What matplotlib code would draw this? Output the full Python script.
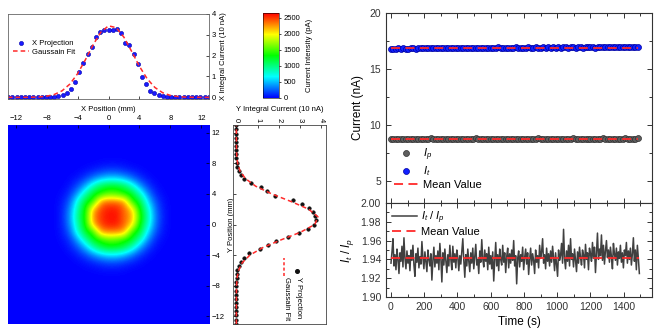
import numpy as np
import matplotlib
matplotlib.use("Agg")
import matplotlib.pyplot as plt
from matplotlib.colors import LinearSegmentedColormap
from matplotlib.ticker import MultipleLocator

plt.rcParams["font.family"] = ["Liberation Sans", "DejaVu Sans"]
plt.rcParams["mathtext.fontset"] = "custom"
plt.rcParams["mathtext.rm"] = "Liberation Sans"
plt.rcParams["mathtext.it"] = "Liberation Sans:italic"

# ---- beam profile data ----
proj_step = 0.54  # mm between projection points
proj_k = np.arange(-24, 25)
x_proj = [0, 0, 0, 0, 0, 0, 0, 0, 0, 0, 0,
          0.02, 0.05, 0.12, 0.22, 0.40, 0.72, 1.20, 1.63, 2.10, 2.43, 2.90, 3.15, 3.23,
          3.23, 3.23, 3.28, 3.10, 2.60, 2.50, 2.10, 1.58, 0.98, 0.63, 0.31, 0.19, 0.10,
          0.05, 0.02,
          0, 0, 0, 0, 0, 0, 0, 0, 0, 0]
y_proj = [0, 0, 0, 0, 0, 0, 0, 0, 0, 0, 0,
          0.01, 0.02, 0.05, 0.11, 0.21, 0.38, 0.62, 1.10, 1.50, 1.88, 2.42, 2.98, 3.40,
          3.68, 3.76, 3.74, 3.62, 3.42, 3.10, 2.70, 1.85, 1.45, 1.15, 0.70, 0.38, 0.24,
          0.12, 0.05, 0.02,
          0, 0, 0, 0, 0, 0, 0, 0, 0]
fit_pos = np.arange(-13, 14)
x_fit = [0, 0, 0.002, 0.006, 0.018, 0.054, 0.138, 0.315, 0.635, 1.134, 1.795, 2.516, 3.123,
         3.434, 3.343, 2.883, 2.201, 1.489, 0.892, 0.473, 0.222, 0.092, 0.034, 0.011,
         0.003, 0.001, 0]
y_fit = [0, 0, 0, 0.0004, 0.002, 0.0085, 0.032, 0.102, 0.275, 0.638, 1.26, 2.12, 3.04,
         3.71, 3.86, 3.42, 2.59, 1.67, 0.915, 0.428, 0.17, 0.058, 0.017, 0.004, 0.001, 0, 0]

# current density map, 1 mm pitch, x = -7..8 (cols), y = 8..-6 (rows, top first)
spot = [
    [0, 0, 0, 0, 0, 5, 20, 30, 30, 20, 0, 0, 0, 0, 0, 0],
    [0, 0, 0, 5, 40, 85, 140, 185, 180, 125, 75, 30, 0, 0, 0, 0],
    [0, 0, 10, 65, 175, 345, 505, 590, 580, 480, 305, 140, 50, 0, 0, 0],
    [0, 0, 60, 205, 480, 870, 1150, 1250, 1240, 1120, 820, 420, 160, 40, 0, 0],
    [0, 25, 135, 445, 890, 1265, 1400, 1555, 1510, 1380, 1230, 850, 370, 95, 15, 0],
    [0, 60, 260, 780, 1235, 1450, 2300, 2380, 2355, 2250, 1405, 1190, 595, 210, 40, 0],
    [0, 80, 370, 905, 1360, 2200, 2490, 2590, 2585, 2380, 2100, 1290, 820, 285, 60, 0],
    [0, 90, 410, 980, 1380, 2300, 2530, 2610, 2610, 2380, 2200, 1420, 880, 325, 70, 0],
    [0, 80, 370, 905, 1360, 2200, 2490, 2590, 2585, 2380, 2080, 1290, 820, 285, 60, 0],
    [0, 60, 265, 780, 1235, 1450, 2250, 2300, 2290, 2200, 1400, 1190, 595, 210, 40, 0],
    [0, 30, 140, 450, 890, 1265, 1400, 1555, 1510, 1380, 1230, 850, 370, 95, 15, 0],
    [0, 5, 70, 215, 485, 870, 1150, 1250, 1240, 1120, 815, 420, 160, 40, 0, 0],
    [0, 0, 15, 75, 185, 350, 505, 590, 580, 480, 300, 140, 50, 0, 0, 0],
    [0, 0, 0, 10, 45, 90, 140, 185, 180, 125, 75, 30, 0, 0, 0, 0],
    [0, 0, 0, 0, 5, 10, 25, 30, 30, 20, 0, 0, 0, 0, 0, 0],
]
cbar_ticks = [0, 500, 1000, 1500, 2000, 2500]

# ---- current stability data ----
t_cur = np.arange(100) * 15
i_t = [16.80, 16.82, 16.79, 16.83, 16.81, 16.84, 16.82, 16.80, 16.85, 16.83,
       16.82, 16.86, 16.84, 16.83, 16.85, 16.87, 16.84, 16.86, 16.83, 16.85,
       16.87, 16.85, 16.88, 16.86, 16.84, 16.87, 16.89, 16.86, 16.88, 16.85,
       16.87, 16.90, 16.88, 16.86, 16.89, 16.87, 16.91, 16.88, 16.86, 16.89,
       16.90, 16.87, 16.89, 16.92, 16.88, 16.90, 16.87, 16.91, 16.89, 16.88,
       16.92, 16.90, 16.88, 16.91, 16.89, 16.93, 16.90, 16.88, 16.92, 16.90,
       16.89, 16.93, 16.91, 16.94, 16.90, 16.92, 16.89, 16.93, 16.91, 16.95,
       16.92, 16.90, 16.94, 16.92, 16.89, 16.93, 16.95, 16.91, 16.94, 16.92,
       16.96, 16.93, 16.91, 16.95, 16.93, 16.97, 16.94, 16.92, 16.96, 16.94,
       16.93, 16.97, 16.95, 16.98, 16.94, 16.96, 16.93, 16.97, 16.95, 16.98]
i_p = [8.74, 8.76, 8.73, 8.75, 8.77, 8.74, 8.72, 8.76, 8.75, 8.73,
       8.77, 8.75, 8.74, 8.76, 8.73, 8.75, 8.78, 8.74, 8.76, 8.75,
       8.73, 8.76, 8.74, 8.77, 8.75, 8.73, 8.76, 8.74, 8.75, 8.77,
       8.74, 8.76, 8.73, 8.75, 8.78, 8.75, 8.74, 8.76, 8.73, 8.75,
       8.77, 8.74, 8.76, 8.75, 8.73, 8.76, 8.74, 8.77, 8.75, 8.74,
       8.76, 8.73, 8.75, 8.77, 8.74, 8.76, 8.75, 8.73, 8.76, 8.78,
       8.74, 8.75, 8.77, 8.74, 8.76, 8.73, 8.75, 8.77, 8.74, 8.76,
       8.75, 8.73, 8.76, 8.78, 8.75, 8.74, 8.77, 8.75, 8.73, 8.76,
       8.74, 8.77, 8.75, 8.76, 8.74, 8.78, 8.75, 8.73, 8.76, 8.75,
       8.77, 8.74, 8.76, 8.75, 8.78, 8.74, 8.76, 8.75, 8.77, 8.79]
i_t_mean = 16.90
i_p_mean = 8.75

t_ratio = np.arange(250) * 6
ratio = [1.936, 1.948, 1.962, 1.933, 1.945, 1.929, 1.951, 1.940, 1.925, 1.947,
         1.938, 1.954, 1.932, 1.963, 1.941, 1.930, 1.949, 1.936, 1.944, 1.928,
         1.950, 1.939, 1.955, 1.934, 1.922, 1.946, 1.937, 1.952, 1.931, 1.943,
         1.935, 1.959, 1.942, 1.930, 1.948, 1.938, 1.927, 1.950, 1.940, 1.933,
         1.946, 1.918, 1.939, 1.953, 1.932, 1.944, 1.936, 1.949, 1.929, 1.957,
         1.941, 1.916, 1.947, 1.934, 1.951, 1.938, 1.926, 1.945, 1.933, 1.955,
         1.940, 1.929, 1.954, 1.937, 1.946, 1.931, 1.950, 1.942, 1.928, 1.944,
         1.935, 1.948, 1.962, 1.939, 1.921, 1.945, 1.933, 1.951, 1.938, 1.927,
         1.947, 1.936, 1.952, 1.930, 1.943, 1.956, 1.934, 1.940, 1.925, 1.949,
         1.937, 1.961, 1.941, 1.932, 1.950, 1.938, 1.946, 1.929, 1.953, 1.935,
         1.944, 1.930, 1.948, 1.917, 1.939, 1.958, 1.933, 1.945, 1.928, 1.951,
         1.940, 1.934, 1.955, 1.937, 1.947, 1.926, 1.943, 1.952, 1.931, 1.946,
         1.936, 1.950, 1.939, 1.960, 1.933, 1.944, 1.914, 1.941, 1.949, 1.932,
         1.945, 1.938, 1.953, 1.929, 1.942, 1.951, 1.935, 1.947, 1.924, 1.940,
         1.952, 1.934, 1.946, 1.939, 1.925, 1.950, 1.937, 1.944, 1.931, 1.955,
         1.941, 1.948, 1.962, 1.936, 1.945, 1.930, 1.952, 1.938, 1.946, 1.933,
         1.949, 1.937, 1.954, 1.942, 1.928, 1.947, 1.935, 1.922, 1.950, 1.939,
         1.944, 1.957, 1.936, 1.972, 1.941, 1.930, 1.949, 1.938, 1.955, 1.933,
         1.962, 1.940, 1.946, 1.932, 1.951, 1.939, 1.927, 1.948, 1.936, 1.953,
         1.942, 1.934, 1.950, 1.945, 1.931, 1.956, 1.940, 1.947, 1.929, 1.952,
         1.946, 1.938, 1.958, 1.941, 1.953, 1.926, 1.948, 1.968, 1.940, 1.951,
         1.944, 1.966, 1.939, 1.955, 1.935, 1.949, 1.960, 1.942, 1.950, 1.937,
         1.953, 1.943, 1.930, 1.957, 1.946, 1.939, 1.952, 1.934, 1.948, 1.941,
         1.955, 1.937, 1.947, 1.931, 1.950, 1.944, 1.958, 1.936, 1.949, 1.940,
         1.952, 1.934, 1.946, 1.963, 1.938, 1.950, 1.929, 1.955, 1.941, 1.925]
ratio_mean = 1.942

W, H = 660, 334
fig = plt.figure(figsize=(W / 100, H / 100), dpi=100)


def box(x0, y0, x1, y1):
    # pixel box (top-left origin) -> figure axes rect
    return [x0 / W, 1 - y1 / H, (x1 - x0) / W, (y1 - y0) / H]


small = 5.5
red = "#ff2a2a"
edge = "#666666"

# ---- X projection ----
ax_x = fig.add_axes(box(8, 14, 209, 99))
xp = proj_k * proj_step
ax_x.plot(xp, x_proj, "o", ms=3, mfc="#1a1aff", mec="#0000aa", mew=0.4, ls="none",
          label="X Projection")
ax_x.plot(fit_pos, x_fit, "--", color=red, lw=1.1, dashes=(3, 2), label="Gaussain Fit")
ax_x.set_xlim(-13, 13)
ax_x.set_ylim(-0.08, 4)
ax_x.yaxis.tick_right()
ax_x.yaxis.set_label_position("right")
ax_x.set_ylabel("X Integral Current (10 nA)", fontsize=small, labelpad=3)
ax_x.set_xticks([-12, -8, -4, 0, 4, 8, 12])
ax_x.set_xticklabels([])
ax_x.set_yticks([0, 1, 2, 3, 4])
ax_x.tick_params(direction="in", length=2, width=0.5, labelsize=small, pad=2)
for s in ax_x.spines.values():
    s.set_color(edge)
    s.set_linewidth(0.6)
ax_x.legend(loc="center left", bbox_to_anchor=(0.0, 0.6), frameon=False, fontsize=small,
            handlelength=2.0, labelspacing=0.2, borderaxespad=0.3, handletextpad=0.4)

# ---- density map ----
cmap = LinearSegmentedColormap.from_list(
    "rainbow5", ["#0000ff", "#00ffff", "#00ff00", "#ffff00", "#ff0000"])
grid = np.zeros((27, 27))
grid[5:20, 6:22] = spot
ax_m = fig.add_axes(box(8, 125, 209, 324))
im = ax_m.imshow(grid, extent=(-13.5, 13.5, -13.5, 13.5), origin="upper", cmap=cmap,
                 vmin=0, vmax=2650, interpolation="bicubic", aspect="auto")
ax_m.set_xlim(-13, 13)
ax_m.set_ylim(-13, 13)
ax_m.xaxis.tick_top()
ax_m.xaxis.set_label_position("top")
ax_m.yaxis.tick_right()
ax_m.yaxis.set_label_position("right")
ax_m.set_xticks([-12, -8, -4, 0, 4, 8, 12])
ax_m.set_yticks([-12, -8, -4, 0, 4, 8, 12])
ax_m.set_xlabel("X Position (mm)", fontsize=small, labelpad=3)
ax_m.set_ylabel("Y Position (mm)", fontsize=small, labelpad=2)
ax_m.tick_params(direction="in", length=2, width=0.5, labelsize=small, pad=2)
for s in ax_m.spines.values():
    s.set_visible(False)

# ---- Y projection (rotated) ----
ax_y = fig.add_axes(box(233, 125, 326, 324))
ax_y.plot(y_proj, proj_k * proj_step, "o", ms=2.6, mfc="#111111", mec="#000000", mew=0.3,
          ls="none")
ax_y.plot(y_fit, fit_pos, "--", color=red, lw=1.1, dashes=(3, 2))
ax_y.set_ylim(-13, 13)
ax_y.set_xlim(-0.16, 4.24)
ax_y.xaxis.tick_top()
ax_y.set_xticks([0, 1, 2, 3, 4])
ax_y.set_yticks([-12, -8, -4, 0, 4, 8, 12])
ax_y.set_yticklabels([])
ax_y.tick_params(direction="in", length=2, width=0.5, labelsize=small, pad=2)
ax_y.tick_params(axis="x", labelrotation=-90)
for s in ax_y.spines.values():
    s.set_color("#444444")
    s.set_linewidth(0.6)
# legend drawn sideways to match the rotated panel
ax_y.plot([0.685], [0.265], "o", ms=2.6, color="#111111", transform=ax_y.transAxes,
          clip_on=False)
ax_y.text(0.70, 0.235, "Y Projection", rotation=-90, ha="center", va="top",
          fontsize=small, transform=ax_y.transAxes)
ax_y.plot([0.548, 0.548], [0.24, 0.33], "--", color=red, lw=1.1, dashes=(2, 1.5),
          transform=ax_y.transAxes)
ax_y.text(0.58, 0.235, "Gaussain Fit", rotation=-90, ha="center", va="top",
          fontsize=small, transform=ax_y.transAxes)
fig.text(280 / W, 1 - 109 / H, "Y Integral Current (10 nA)", ha="center", va="center",
         fontsize=small)

# ---- colorbar ----
cax = fig.add_axes(box(263, 13, 279, 98))
cb = fig.colorbar(im, cax=cax, ticks=cbar_ticks)
cb.outline.set_linewidth(0.4)
cb.ax.tick_params(length=1.5, width=0.5, labelsize=small, pad=2)
cb.set_label("Current Intensity (pA)", fontsize=small, labelpad=4)

# ---- current vs time ----
frame = "#333333"
ax_c = fig.add_axes(box(386, 13, 652, 203))
ax_c.plot(t_cur, i_p, "o", ms=4.3, mfc="#5e5e5e", mec="#303030", mew=0.5, ls="none",
          label="$I_p$")
ax_c.plot(t_cur, i_t, "o", ms=4.3, mfc="#1020ff", mec="#0000a0", mew=0.5, ls="none",
          label="$I_t$")
ax_c.plot([t_cur[0], t_cur[-1]], [i_p_mean, i_p_mean], "--", color=red, lw=1.3,
          dashes=(5, 3), label="Mean Value")
ax_c.plot([t_cur[0], t_cur[-1]], [i_t_mean, i_t_mean], "--", color=red, lw=1.3,
          dashes=(5, 3))
ax_c.set_xlim(-30, 1570)
ax_c.set_ylim(3, 20)
ax_c.set_yticks([5, 10, 15, 20])
ax_c.yaxis.set_minor_locator(MultipleLocator(2.5))
ax_c.xaxis.set_major_locator(MultipleLocator(200))
ax_c.xaxis.set_minor_locator(MultipleLocator(100))
ax_c.set_xticklabels([])
ax_c.set_ylabel("Current (nA)", fontsize=8.5, labelpad=4)
ax_c.tick_params(which="both", direction="in", top=True, right=True, width=0.7,
                 labelsize=7.5, colors=frame)
ax_c.tick_params(which="major", length=3.5)
ax_c.tick_params(which="minor", length=2)
ax_c.legend(loc="lower left", bbox_to_anchor=(0.0, 0.03), frameon=False, fontsize=8,
            handlelength=2.2, labelspacing=0.12, borderaxespad=0.3, handletextpad=0.4)
for s in ax_c.spines.values():
    s.set_color(frame)
    s.set_linewidth(0.8)

# ---- ratio vs time ----
ax_r = fig.add_axes(box(386, 203, 652, 297))
ax_r.plot(t_ratio, ratio, "-", color="#404040", lw=1.1, label="$I_t$ / $I_p$")
ax_r.plot([t_ratio[0], t_ratio[-1]], [ratio_mean, ratio_mean], "--", color=red, lw=1.3,
          dashes=(5, 3), label="Mean Value")
ax_r.set_xlim(-30, 1570)
ax_r.set_ylim(1.90, 2.00)
ax_r.set_yticks([1.90, 1.92, 1.94, 1.96, 1.98, 2.00])
ax_r.yaxis.set_minor_locator(MultipleLocator(0.01))
ax_r.xaxis.set_major_locator(MultipleLocator(200))
ax_r.xaxis.set_minor_locator(MultipleLocator(100))
ax_r.set_xlabel("Time (s)", fontsize=8.5, labelpad=3)
ax_r.set_ylabel("$I_t$ / $I_p$", fontsize=8.5, labelpad=3)
ax_r.tick_params(which="both", direction="in", top=True, right=True, width=0.7,
                 labelsize=7.5, colors=frame)
ax_r.tick_params(which="major", length=3.5)
ax_r.tick_params(which="minor", length=2)
ax_r.legend(loc="upper left", frameon=False, fontsize=8, handlelength=2.2,
            labelspacing=0.1, borderaxespad=0.15, handletextpad=0.4)
for s in ax_r.spines.values():
    s.set_color(frame)
    s.set_linewidth(0.8)

fig.savefig("out.png", dpi=100)
